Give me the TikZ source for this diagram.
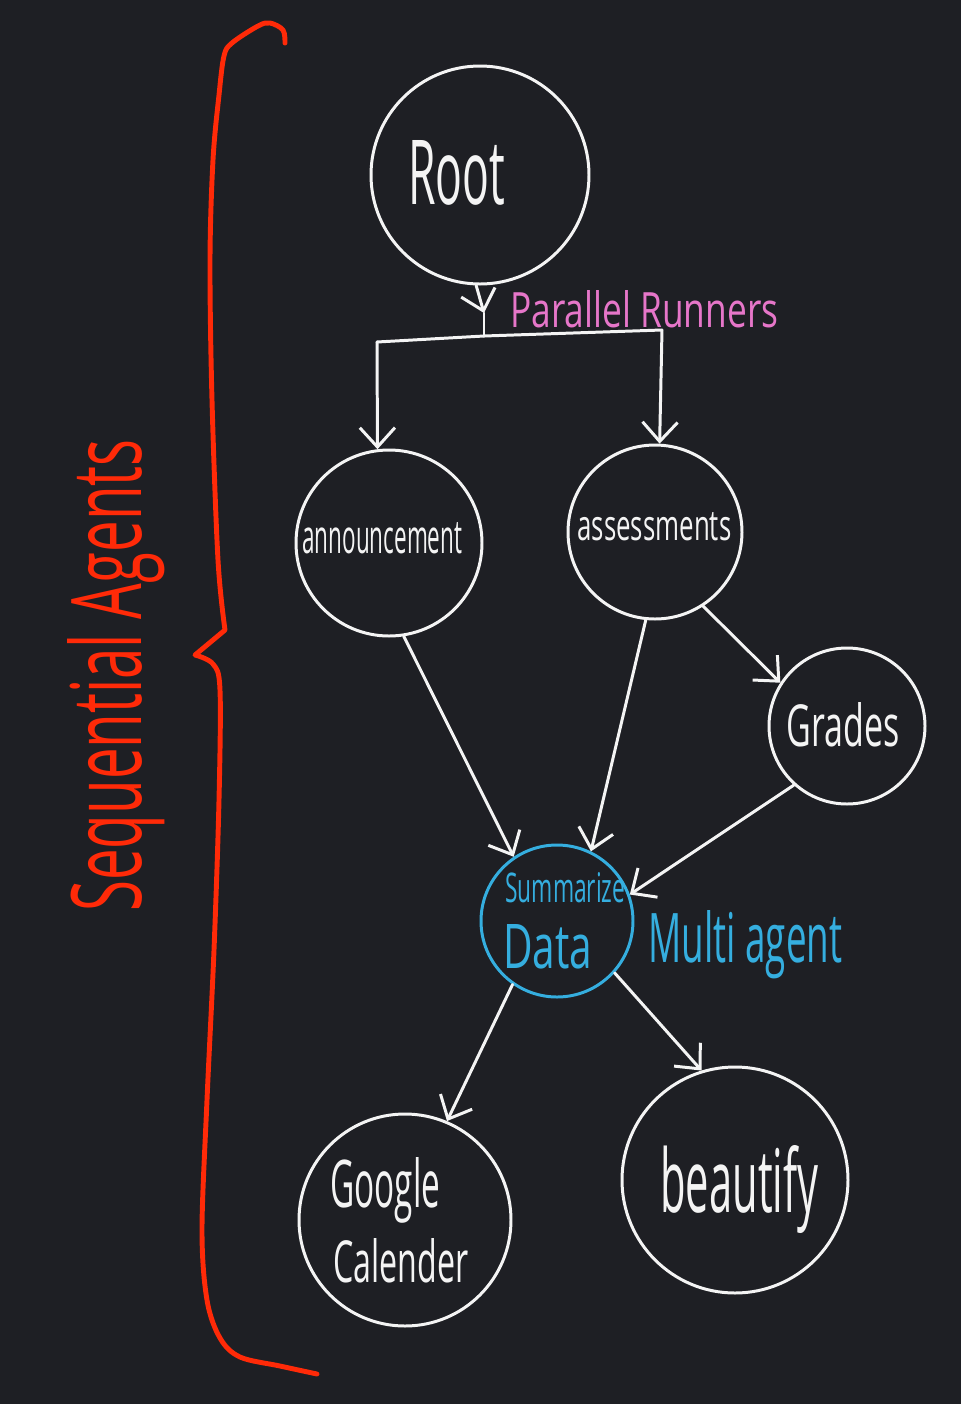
\documentclass[tikz,border=0pt]{standalone}
\usepackage{fontspec}
\setmainfont{Open Sans}
\usetikzlibrary{arrows.meta}
\definecolor{bgc}{HTML}{1E1F24}
\definecolor{inkw}{HTML}{F4F4F4}
\definecolor{inkpink}{HTML}{E676C9}
\definecolor{inkblue}{HTML}{35AEDF}
\definecolor{inkred}{HTML}{FF2A08}
\newlength\pxu
\setlength\pxu{0.02cm}
\newcommand\fitt[3]{\resizebox{#1\pxu}{#2\pxu}{#3}}
\tikzset{
  circ/.style={circle,draw=inkw,line width=1.7pt,inner sep=0pt,minimum size=#1},
  bcirc/.style={circle,draw=inkblue,line width=1.7pt,inner sep=0pt,minimum size=#1},
  wline/.style={draw=inkw,line width=1.7pt,line cap=round,line join=round},
  arr/.style={wline,-{Straight Barb[length=11pt,width=20pt]}},
  lbl/.style={anchor=base west,inner sep=0pt,text=#1},
  bracestyle/.style={draw=inkred,line width=2.8pt,line cap=round,line join=round}
}
\begin{document}
\begin{tikzpicture}[x=0.02cm,y=-0.02cm]
\fill[bgc] (0,0) rectangle (961,1404);
\useasboundingbox (0,0) rectangle (961,1404);

% circles
\node[circ=218\pxu] (root) at (480,175) {};
\node[circ=186\pxu] (ann) at (389,543) {};
\node[circ=174\pxu] (ass) at (655,532) {};
\node[circ=156\pxu] (gra) at (847,726) {};
\node[bcirc=152\pxu] (sum) at (557,921) {};
\node[circ=212\pxu] (goo) at (405,1220) {};
\node[circ=226\pxu] (bea) at (735,1180) {};

% labels
\node[lbl=inkw] (troot) at (408,204) {\fitt{97}{64}{Root}};
\node[lbl=inkw] (tann) at (302,553) {\fitt{160}{31}{announcement}};
\node[lbl=inkw] (tass) at (577,540) {\fitt{154}{28}{assessments}};
\node[lbl=inkw] (tgra) at (786,746) {\fitt{113}{44}{Grades}};
\node[lbl=inkblue] (tsum) at (505,902) {\fitt{120}{30}{Summarize}};
\node[lbl=inkblue] (tdata) at (503,968) {\fitt{89}{44}{Data}};
\node[lbl=inkw] (tgoo) at (330,1207) {\fitt{110}{50}{Google}};
\node[lbl=inkw] (tcal) at (333,1282) {\fitt{135}{44}{Calender}};
\node[lbl=inkw] (tbea) at (660,1212) {\fitt{158}{67}{beautify}};
\node[lbl=inkpink] (tpar) at (510,327) {\fitt{268}{37}{Parallel Runners}};
\node[lbl=inkblue] (tmul) at (648,962) {\fitt{194}{52}{Multi agent}};
\node[lbl=inkred,rotate=90] (tseq) at (141,912) {\fitt{472}{74}{Sequential Agents}};

% fork
\coordinate (tip) at (484,313);
\coordinate (fj) at (484,336);
\coordinate (fl) at (377,342);
\coordinate (fr) at (662,330);
\draw[arr] (root.268) -- (tip);
\draw[wline] (tip) -- (fj);
\draw[wline] (fl) -- (fj);
\draw[wline] (fj) -- (fr);
\draw[arr] (fl) -- (ann.97);
\draw[arr] (fr) -- (ass.87);

% connectors
\draw[arr] (ann.279) -- (sum.124);
\draw[arr] (ass.264) -- (sum.64);
\draw[arr] (ass.303) -- (gra.147);
\draw[arr] (gra.228) -- (sum.20);
\draw[arr] (sum.235) -- (goo.67);
\draw[arr] (sum.318) -- (bea.107);

% brace
\draw[bracestyle] plot[smooth,tension=0.55] coordinates {(285,43) (283,30) (270,23) (258,26) (232,43) (224,56) (219,95) (213,160) (210,260) (212,400) (218,560) (225,630)}
  -- (195,655)
  -- plot[smooth,tension=0.55] coordinates {(195,655) (213,664) (220,690) (219,800) (214,950) (207,1100) (202,1230) (207,1300) (220,1338) (240,1357) (280,1366) (317,1374)};
\end{tikzpicture}
\end{document}
